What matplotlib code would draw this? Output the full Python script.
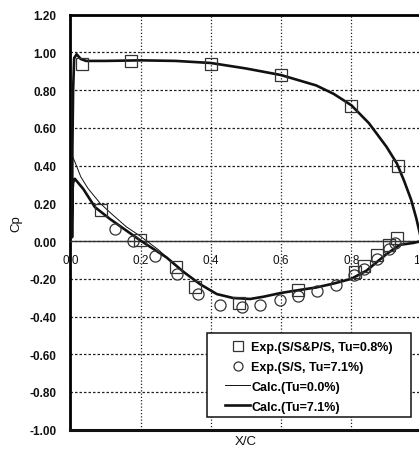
import numpy as np
import matplotlib
matplotlib.use("Agg")
import matplotlib.pyplot as plt
from matplotlib.lines import Line2D
from matplotlib.patches import Rectangle

plt.rcParams['font.family'] = ['Liberation Sans', 'DejaVu Sans']

# ---------------- data ----------------
# Calculated pressure side (common for both Tu)
x_ps = [1.0, 0.995, 0.985, 0.97, 0.95, 0.93, 0.9, 0.85, 0.8, 0.75, 0.7, 0.6, 0.5,
        0.4, 0.3, 0.2, 0.1, 0.045, 0.03, 0.018, 0.011, 0.008, 0.006]
cp_ps = [0.0, 0.04, 0.12, 0.22, 0.32, 0.41, 0.50, 0.625, 0.72, 0.78, 0.825, 0.88, 0.915,
         0.944, 0.955, 0.958, 0.955, 0.955, 0.965, 0.99, 0.97, 0.80, 0.50]

# Calculated suction side, Tu=0.0%
x_ss00 = [0.006, 0.013, 0.03, 0.05, 0.085, 0.12, 0.16, 0.2, 0.25, 0.274, 0.322, 0.369,
          0.417, 0.464, 0.512, 0.55, 0.6, 0.65, 0.7, 0.75, 0.8, 0.843, 0.9, 0.938, 0.976, 1.0]
cp_ss00 = [0.45, 0.42, 0.34, 0.28, 0.20, 0.14, 0.075, 0.025, -0.045, -0.085, -0.163, -0.228,
           -0.281, -0.302, -0.307, -0.295, -0.275, -0.26, -0.246, -0.225, -0.20, -0.157,
           -0.069, -0.02, -0.01, 0.0]

# Calculated suction side, Tu=7.1%
x_ss71 = [0.005, 0.005, 0.006, 0.008, 0.013, 0.037, 0.07, 0.113, 0.16, 0.198, 0.25, 0.274,
          0.322, 0.369, 0.417, 0.464, 0.512, 0.55, 0.6, 0.65, 0.7, 0.75, 0.8, 0.843, 0.9,
          0.938, 0.976, 1.0]
cp_ss71 = [0.02, 0.10, 0.26, 0.31, 0.33, 0.276, 0.18, 0.117, 0.055, 0.005, -0.058, -0.087,
           -0.163, -0.228, -0.281, -0.302, -0.307, -0.295, -0.275, -0.26, -0.246, -0.225,
           -0.20, -0.157, -0.069, -0.02, -0.01, 0.0]

# Experiment S/S & P/S, Tu=0.8% (squares)
x_sq = [0.033, 0.173, 0.4, 0.6, 0.8, 0.934,
        0.087, 0.199, 0.302, 0.355, 0.48, 0.648, 0.81, 0.836, 0.872, 0.908, 0.931]
cp_sq = [0.94, 0.953, 0.94, 0.88, 0.717, 0.40,
         0.167, 0.008, -0.14, -0.245, -0.33, -0.257, -0.166, -0.132, -0.073, -0.022, 0.018]

# Experiment S/S, Tu=7.1% (circles)
x_ci = [0.128, 0.179, 0.241, 0.303, 0.364, 0.426, 0.488, 0.54, 0.597, 0.649, 0.701,
        0.756, 0.808, 0.836, 0.872, 0.908, 0.924]
cp_ci = [0.064, -0.002, -0.078, -0.175, -0.281, -0.337, -0.35, -0.339, -0.313, -0.29,
         -0.263, -0.232, -0.178, -0.15, -0.093, -0.042, -0.012]

x_ticks = [0.0, 0.2, 0.4, 0.6, 0.8, 1.0]
y_ticks = [1.2, 1.0, 0.8, 0.6, 0.4, 0.2, 0.0, -0.2, -0.4, -0.6, -0.8, -1.0]

labels = ["Exp.(S/S&P/S, Tu=0.8%)", "Exp.(S/S, Tu=7.1%)", "Calc.(Tu=0.0%)", "Calc.(Tu=7.1%)"]

# ---------------- figure ----------------
W, H = 419, 452
fig = plt.figure(figsize=(W / 100, H / 100), dpi=100)
ax = fig.add_axes([70.3 / W, 21.3 / H, 351.3 / W, 415 / H])

ax.set_xlim(0, 1.0)
ax.set_ylim(-1.0, 1.2)

lc = '#111111'
# calculated curves
ax.plot(x_ps + x_ss00, cp_ps + cp_ss00, color=lc, lw=0.7, zorder=3)
ax.plot(x_ps + x_ss71, cp_ps + cp_ss71, color=lc, lw=1.9, zorder=4)

# experiments
ax.plot(x_sq, cp_sq, ls='none', marker='s', ms=8.5, mfc='none', mec='#333333', mew=0.9, zorder=5)
ax.plot(x_ci, cp_ci, ls='none', marker='o', ms=8.0, mfc='none', mec='#333333', mew=0.9, zorder=5)

# axes styling
ax.set_xticks(x_ticks)
ax.set_xticklabels([f"{v:.1f}" for v in x_ticks], fontweight='bold')
ax.set_yticks(y_ticks)
ax.set_yticklabels([f"{v:.2f}" for v in y_ticks], fontweight='bold')
ax.tick_params(axis='both', length=0, labelsize=8.5, colors='#111111')
ax.tick_params(axis='y', pad=10)
ax.tick_params(axis='x', pad=9)

ax.spines['bottom'].set_position(('data', 0))
ax.spines['bottom'].set_linewidth(1.0)
ax.spines['bottom'].set_color('#333333')
ax.spines['left'].set_linewidth(2.0)
ax.spines['top'].set_linewidth(2.0)
ax.spines['right'].set_linewidth(2.0)
ax.axhline(-1.0, color='#111111', lw=2.2, clip_on=False, zorder=6)

ax.yaxis.grid(True, color='#222222', lw=0.9, ls=(0, (2.0, 1.6)))
ax.xaxis.grid(True, color='#222222', lw=0.9, ls=(0, (1.0, 1.6)))
ax.set_axisbelow(True)

ax.set_xlabel("X/C", fontsize=9.5, color='#111111')
ax.xaxis.set_label_coords(0.5, -0.012)
ax.set_ylabel("Cp", fontsize=9.5, color='#111111')
ax.yaxis.set_label_coords(-0.135, 0.5)

# legend
handles = [
    Line2D([], [], ls='none', marker='s', ms=7, mfc='none', mec='#333333', mew=0.9),
    Line2D([], [], ls='none', marker='o', ms=6.5, mfc='none', mec='#333333', mew=0.9),
    Line2D([], [], color=lc, lw=0.7),
    Line2D([], [], color=lc, lw=1.9),
]
leg = fig.legend(handles, labels, loc='upper left',
                 bbox_to_anchor=(225 / W, 1 - 342 / H), bbox_transform=fig.transFigure,
                 frameon=False, prop={'size': 9, 'weight': 'bold'},
                 handlelength=2.0, handletextpad=0.1,
                 labelspacing=0.63, borderpad=0.0, borderaxespad=0.0)
leg.set_zorder(3)
fig.canvas.draw()
bb = leg.get_window_extent()
padx, pad_top, pad_bot = 18, 8, 4
rect = Rectangle(((bb.x0 - padx) / W, (bb.y0 - pad_bot) / H),
                 (bb.width + 2 * padx) / W, (bb.height + pad_top + pad_bot) / H,
                 transform=fig.transFigure, facecolor='white', edgecolor='#111111',
                 lw=1.1, zorder=2)
fig.patches.append(rect)

fig.savefig("out.png", dpi=100)
